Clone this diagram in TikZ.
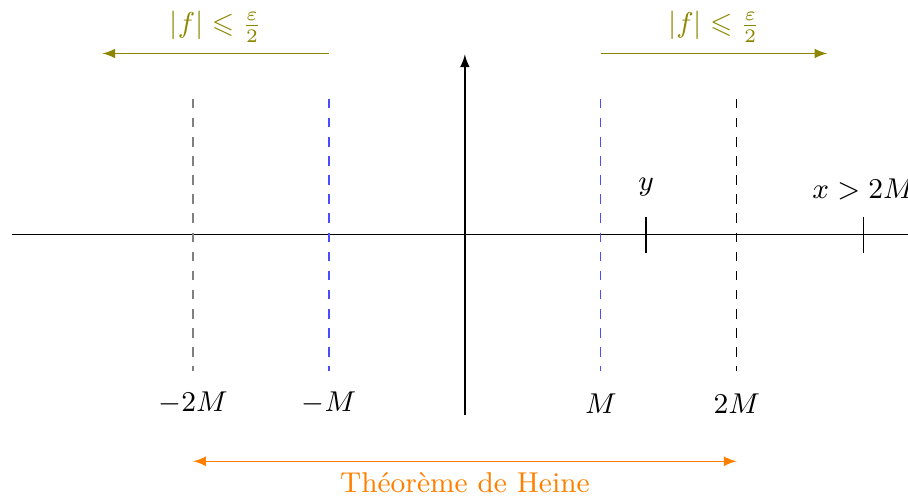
\documentclass[tikz,border=0pt]{standalone}
\usepackage{amssymb}
\begin{document}
\begin{tikzpicture}[
  every node/.style={font=\small},
  axe/.style={-latex},
  pointille/.style={dashed},
  borne/.style={olive, -latex},
  heine/.style={orange, latex-latex}
]
\useasboundingbox (-5.13,-2.89) rectangle (4.89,2.59);

% axes
\coordinate (xg) at (-5,0);
\coordinate (xd) at (4.95,0);
\coordinate (yb) at (0,-1.99);
\coordinate (yh) at (0,1.99);
\draw (xg) -- (xd);
\draw[axe] (yb) -- (yh);

% bornes en pointilles
\coordinate (m2h) at (-3,1.5);  \coordinate (m2b) at (-3,-1.5);
\coordinate (m1h) at (-1.5,1.5); \coordinate (m1b) at (-1.5,-1.5);
\coordinate (p1h) at (1.5,1.5);  \coordinate (p1b) at (1.5,-1.5);
\coordinate (p2h) at (3,1.5);    \coordinate (p2b) at (3,-1.5);
\draw[pointille, gray] (m2h) -- (m2b);
\draw[pointille, blue!70] (m1h) -- (m1b);
\draw[pointille, blue!70] (p1h) -- (p1b);
\draw[pointille] (p2h) -- (p2b);

\node (lm2) at (-3,-1.86) {$-2M$};
\node (lm1) at (-1.5,-1.86) {$-M$};
\node (lp1) at (1.5,-1.86) {$M$};
\node (lp2) at (3,-1.86) {$2M$};

% les points y et x
\coordinate (yh1) at (2,0.2);  \coordinate (yb1) at (2,-0.2);
\coordinate (xh1) at (4.4,0.2); \coordinate (xb1) at (4.4,-0.2);
\draw (yh1) -- (yb1);
\draw (xh1) -- (xb1);
\node (ly) at (2,0.52) {$y$};
\node (lx) at (4.4,0.5) {$x>2M$};

% ou |f| est petit
\coordinate (ga) at (-1.5,2);  \coordinate (gb) at (-4,2);
\coordinate (da) at (1.5,2);   \coordinate (db) at (4,2);
\draw[borne] (ga) -- node[above] {$|f|\leqslant\frac{\varepsilon}{2}$} (gb);
\draw[borne] (da) -- node[above] {$|f|\leqslant\frac{\varepsilon}{2}$} (db);

% compact
\coordinate (ha) at (-3,-2.5); \coordinate (hb) at (3,-2.5);
\draw[heine] (ha) -- node[below] {Th\'eor\`eme de Heine} (hb);
\end{tikzpicture}
\end{document}
